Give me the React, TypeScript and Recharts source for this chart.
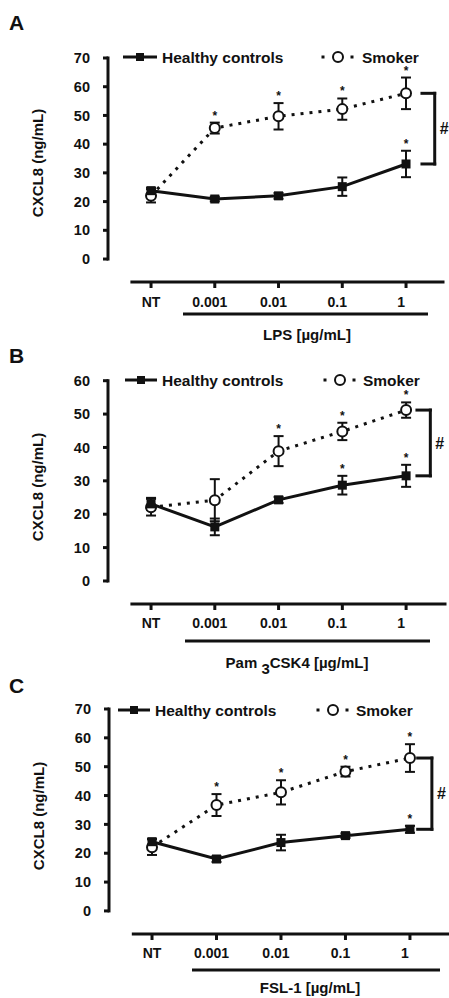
import React from 'react';
import { ComposedChart, Line, XAxis, YAxis, ErrorBar, Scatter, ReferenceLine } from 'recharts';

// concentrations on the x axis, shared by all three panels
const CATEGORIES = ['NT', '0.001', '0.01', '0.1', '1'];
const SERIES = ['Healthy controls', 'Smoker'];
const Y_LABEL = 'CXCL8 (ng/mL)';

// A: LPS
const LPS_HEALTHY = [23.8, 20.9, 22.0, 25.2, 33.1];
const LPS_HEALTHY_SEM = [1.0, 0.8, 1.0, 3.2, 4.6];
const LPS_SMOKER = [22.0, 45.6, 49.7, 52.2, 57.7];
const LPS_SMOKER_SEM = [2.3, 1.9, 4.6, 3.7, 5.5];
const LPS_HEALTHY_STAR = [false, false, false, false, true];
const LPS_SMOKER_STAR = [false, true, true, true, true];

// B: Pam3CSK4
const PAM_HEALTHY = [23.1, 16.2, 24.3, 28.7, 31.5];
const PAM_HEALTHY_SEM = [1.8, 2.5, 0.9, 2.8, 3.3];
const PAM_SMOKER = [22.1, 24.2, 38.9, 44.8, 51.2];
const PAM_SMOKER_SEM = [2.5, 6.3, 4.5, 2.6, 2.3];
const PAM_HEALTHY_STAR = [false, false, false, true, true];
const PAM_SMOKER_STAR = [false, false, true, true, true];

// C: FSL-1
const FSL_HEALTHY = [24.0, 18.0, 23.7, 26.1, 28.3];
const FSL_HEALTHY_SEM = [1.0, 1.0, 2.7, 0.8, 1.2];
const FSL_SMOKER = [22.1, 36.7, 41.1, 48.3, 53.0];
const FSL_SMOKER_SEM = [2.7, 3.8, 4.2, 1.7, 4.8];
const FSL_HEALTHY_STAR = [false, false, false, false, true];
const FSL_SMOKER_STAR = [false, true, true, true, true];

const INK = '#111';
const FONT = '"Liberation Sans", Arial, Helvetica, sans-serif';
const W = 449;
const YAXIS_W = 80;
const XAXIS_H = 30;

type Layout = {
  letter: string;
  top: number;
  height: number;
  yMax: number;
  yMin: number;
  xMin: number;
  xMax: number;
  xLineStart: number;
  plotLeft: number;
  plotRight: number;
  plotTop: number;
  axisY: number;
  tickMargin: number;
  underline: [number, number, number];
  xLabelPos: [number, number];
  bracket: [number, number];
  yLabelPos: [number, number];
  letterY: number;
  legendY: number;
  legendHealthy: [number, number, number];
  legendSmoker: [number, number, number, number];
};

type PanelProps = {
  layout: Layout;
  healthy: number[];
  healthySem: number[];
  smoker: number[];
  smokerSem: number[];
  healthyStar: boolean[];
  smokerStar: boolean[];
  xLabel: React.ReactNode;
};

const Square = (p: any) => (
  <rect key={`sq-${p.index}`} x={p.cx - 4.5} y={p.cy - 4.5} width={9} height={9} fill={INK} />
);

const OpenCircle = (p: any) => (
  <circle key={`ci-${p.index}`} cx={p.cx} cy={p.cy} r={5} fill="#fff" stroke={INK} strokeWidth={2} />
);

const Star = (p: any) => (
  <text x={p.cx} y={p.cy - 3} textAnchor="middle" fontSize={12} fontWeight="bold" fill={INK} fontFamily={FONT}>
    *
  </text>
);

const XTick = (p: any) => {
  const v = p.payload.value;
  return (
    <text
      x={p.x}
      y={p.y}
      dx={v === 0 ? 0 : -5}
      dy="0.71em"
      textAnchor="middle"
      fontSize={14}
      fontWeight="bold"
      fill={INK}
      fontFamily={FONT}
    >
      {CATEGORIES[v]}
    </text>
  );
};

function Panel({ layout: L, healthy, healthySem, smoker, smokerSem, healthyStar, smokerStar, xLabel }: PanelProps) {
  const rows = CATEGORIES.map((_, i) => ({
    x: i,
    healthy: healthy[i],
    healthySem: healthySem[i],
    smoker: smoker[i],
    smokerSem: smokerSem[i],
  }));
  const stars = [
    ...CATEGORIES.map((_, i) => ({ x: i, y: healthy[i] + healthySem[i], on: healthyStar[i] })),
    ...CATEGORIES.map((_, i) => ({ x: i, y: smoker[i] + smokerSem[i], on: smokerStar[i] })),
  ].filter((s) => s.on);

  const yTicks: number[] = [];
  for (let t = 0; t <= L.yMax; t += 10) yTicks.push(t);

  const last = CATEGORIES.length - 1;
  const top = smoker[last];
  const bottom = healthy[last];
  const [bx0, bx1] = L.bracket;
  const line = { stroke: INK, strokeWidth: 3, strokeLinecap: 'square' as const, ifOverflow: 'visible' as const };

  const text = { fontFamily: FONT, fontWeight: 'bold' as const, fill: INK };

  return (
    <div style={{ position: 'absolute', left: 0, top: L.top, width: W, height: L.height }}>
      <ComposedChart
        width={W}
        height={L.height}
        data={rows}
        margin={{
          top: L.plotTop,
          right: W - L.plotRight,
          left: L.plotLeft - YAXIS_W,
          bottom: L.height - L.axisY - XAXIS_H,
        }}
      >
        <XAxis
          dataKey="x"
          type="number"
          domain={[L.xMin, L.xMax]}
          allowDataOverflow
          ticks={[0, 1, 2, 3, 4]}
          interval={0}
          height={XAXIS_H}
          axisLine={false}
          tickLine={{ stroke: INK, strokeWidth: 3 }}
          tickSize={6}
          tickMargin={L.tickMargin}
          tick={<XTick />}
          label={{
            content: () => (
              <g>
                <line
                  x1={L.underline[0]}
                  x2={L.underline[1]}
                  y1={L.underline[2]}
                  y2={L.underline[2]}
                  stroke={INK}
                  strokeWidth={3}
                />
                <text x={L.xLabelPos[0]} y={L.xLabelPos[1]} dy="0.36em" textAnchor="middle" fontSize={15} {...text}>
                  {xLabel}
                </text>
              </g>
            ),
          }}
        />
        <YAxis
          type="number"
          domain={[L.yMin, L.yMax]}
          allowDataOverflow
          ticks={yTicks}
          interval={0}
          width={YAXIS_W}
          axisLine={false}
          tickLine={{ stroke: INK, strokeWidth: 3 }}
          tickSize={5}
          tickMargin={13}
          tick={{ fontSize: 14.5, fontWeight: 'bold', fill: INK, fontFamily: FONT }}
          label={{
            content: () => (
              <text
                x={L.yLabelPos[0]}
                y={L.yLabelPos[1]}
                dy="0.36em"
                textAnchor="middle"
                fontSize={15}
                transform={`rotate(-90 ${L.yLabelPos[0]} ${L.yLabelPos[1]})`}
                {...text}
              >
                {Y_LABEL}
              </text>
            ),
          }}
        />

        {/* axis lines: y runs 0..max, x sits detached below zero */}
        <ReferenceLine segment={[{ x: L.xMin, y: 0 }, { x: L.xMin, y: L.yMax }]} {...line} />
        <ReferenceLine segment={[{ x: L.xLineStart, y: L.yMin }, { x: L.xMax, y: L.yMin }]} {...line} />

        {/* # bracket between the two groups at the top dose */}
        <ReferenceLine segment={[{ x: bx0, y: top }, { x: bx1, y: top }]} {...line} />
        <ReferenceLine segment={[{ x: bx0, y: bottom }, { x: bx1, y: bottom }]} {...line} />
        <ReferenceLine
          segment={[{ x: bx1, y: top }, { x: bx1, y: bottom }]}
          {...line}
          label={{ value: '#', position: 'right', offset: 5, fontSize: 16, ...text }}
        />

        <Line
          type="linear"
          dataKey="smoker"
          name={SERIES[1]}
          stroke={INK}
          strokeWidth={3}
          strokeDasharray="3 6"
          dot={OpenCircle}
          activeDot={false}
          isAnimationActive={false}
        >
          <ErrorBar dataKey="smokerSem" width={5} stroke={INK} strokeWidth={2} direction="y" />
        </Line>
        <Line
          type="linear"
          dataKey="healthy"
          name={SERIES[0]}
          stroke={INK}
          strokeWidth={3}
          dot={Square}
          activeDot={false}
          isAnimationActive={false}
        >
          <ErrorBar dataKey="healthySem" width={5} stroke={INK} strokeWidth={2} direction="y" />
        </Line>
        <Scatter data={stars} dataKey="y" shape={Star} isAnimationActive={false} />
      </ComposedChart>

      {/* panel letter and legend */}
      <svg
        width={W}
        height={L.height}
        style={{ position: 'absolute', left: 0, top: 0, pointerEvents: 'none' }}
      >
        <text x={9} y={L.letterY} dy="0.36em" fontSize={21} {...text}>
          {L.letter}
        </text>
        <g>
          <line x1={L.legendHealthy[0]} x2={L.legendHealthy[1]} y1={L.legendY} y2={L.legendY} stroke={INK} strokeWidth={3} />
          <rect
            x={(L.legendHealthy[0] + L.legendHealthy[1]) / 2 - 4}
            y={L.legendY - 4}
            width={8}
            height={8}
            fill={INK}
          />
          <text x={L.legendHealthy[2]} y={L.legendY} dy="0.36em" fontSize={15.5} {...text}>
            {SERIES[0]}
          </text>
        </g>
        <g>
          <rect x={L.legendSmoker[0] - 1.5} y={L.legendY - 1.5} width={3} height={3} fill={INK} />
          <circle cx={L.legendSmoker[1]} cy={L.legendY} r={5} fill="#fff" stroke={INK} strokeWidth={2} />
          <rect x={L.legendSmoker[2] - 1.5} y={L.legendY - 1.5} width={3} height={3} fill={INK} />
          <text x={L.legendSmoker[3]} y={L.legendY} dy="0.36em" fontSize={15.5} {...text}>
            {SERIES[1]}
          </text>
        </g>
      </svg>
    </div>
  );
}

const LAYOUT_A: Layout = {
  letter: 'A',
  top: 0,
  height: 348,
  yMax: 70,
  yMin: -8,
  xMin: -0.675,
  xMax: 4.58,
  xLineStart: -0.3,
  plotLeft: 108,
  plotRight: 443,
  plotTop: 58,
  axisY: 282,
  tickMargin: 9,
  underline: [183, 428, 314],
  xLabelPos: [307, 335],
  bracket: [4.25, 4.45],
  yLabelPos: [38, 163],
  letterY: 22,
  legendY: 57,
  legendHealthy: [123, 157, 162],
  legendSmoker: [323, 338, 352, 362],
};

const LAYOUT_B: Layout = {
  letter: 'B',
  top: 330,
  height: 348,
  yMax: 60,
  yMin: -6.9,
  xMin: -0.675,
  xMax: 4.61,
  xLineStart: -0.3,
  plotLeft: 108,
  plotRight: 445,
  plotTop: 50.7,
  axisY: 274,
  tickMargin: 8,
  underline: [185, 430, 311],
  xLabelPos: [297, 333],
  bracket: [4.17, 4.38],
  yLabelPos: [38, 157],
  letterY: 25,
  legendY: 50,
  legendHealthy: [125, 157, 162],
  legendSmoker: [325, 340, 354, 363],
};

const LAYOUT_C: Layout = {
  letter: 'C',
  top: 660,
  height: 338,
  yMax: 70,
  yMin: -8,
  xMin: -0.667,
  xMax: 4.59,
  xLineStart: -0.29,
  plotLeft: 109,
  plotRight: 448,
  plotTop: 49,
  axisY: 274,
  tickMargin: 8,
  underline: [192, 440, 310],
  xLabelPos: [310, 328],
  bracket: [4.12, 4.34],
  yLabelPos: [39, 156],
  letterY: 25,
  legendY: 50,
  legendHealthy: [118, 150, 155],
  legendSmoker: [318, 333, 347, 356],
};

export default function App() {
  return (
    <div style={{ position: 'absolute', left: 0, top: 0, width: W, height: 998, background: '#fff', fontFamily: FONT }}>
      <Panel
        layout={LAYOUT_A}
        healthy={LPS_HEALTHY}
        healthySem={LPS_HEALTHY_SEM}
        smoker={LPS_SMOKER}
        smokerSem={LPS_SMOKER_SEM}
        healthyStar={LPS_HEALTHY_STAR}
        smokerStar={LPS_SMOKER_STAR}
        xLabel="LPS [µg/mL]"
      />
      <Panel
        layout={LAYOUT_B}
        healthy={PAM_HEALTHY}
        healthySem={PAM_HEALTHY_SEM}
        smoker={PAM_SMOKER}
        smokerSem={PAM_SMOKER_SEM}
        healthyStar={PAM_HEALTHY_STAR}
        smokerStar={PAM_SMOKER_STAR}
        xLabel={
          <>
            {'Pam '}
            <tspan dy={6}>3</tspan>
            <tspan dy={-6}>CSK4 [µg/mL]</tspan>
          </>
        }
      />
      <Panel
        layout={LAYOUT_C}
        healthy={FSL_HEALTHY}
        healthySem={FSL_HEALTHY_SEM}
        smoker={FSL_SMOKER}
        smokerSem={FSL_SMOKER_SEM}
        healthyStar={FSL_HEALTHY_STAR}
        smokerStar={FSL_SMOKER_STAR}
        xLabel="FSL-1 [µg/mL]"
      />
    </div>
  );
}
